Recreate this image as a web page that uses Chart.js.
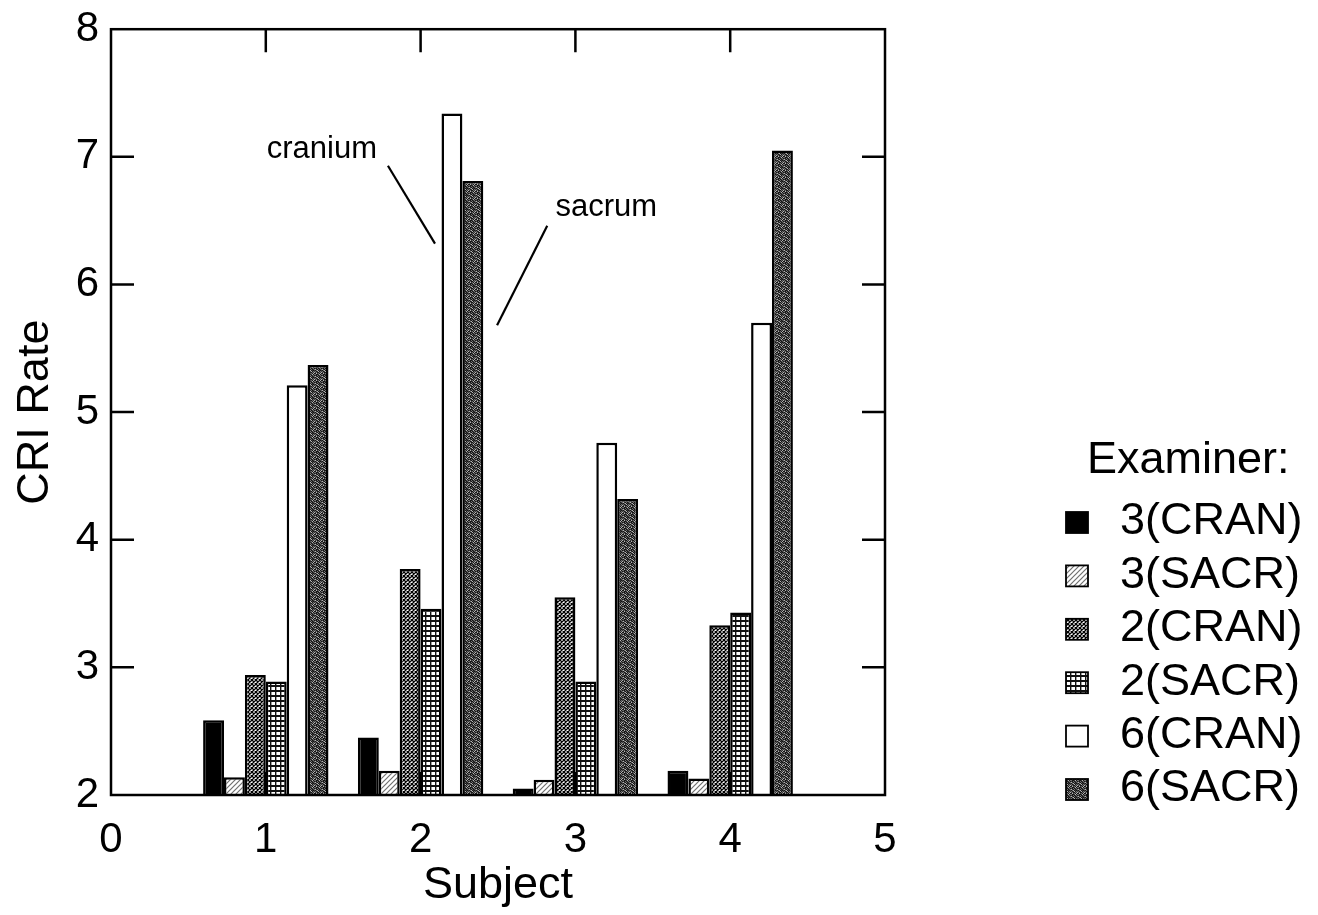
<!DOCTYPE html>
<html>
<head>
<meta charset="utf-8">
<script src="https://cdn.jsdelivr.net/npm/chart.js@4.4.1/dist/chart.umd.min.js"></script>
<style>
  html, body { margin: 0; padding: 0; background: #fff; }
  #wrap { width: 1318px; height: 915px; }
</style>
</head>
<body>
<div id="wrap"><canvas id="c" width="1318" height="915"></canvas></div>
<script>
// ---- data ----
const subjects = ['0', '1', '2', '3', '4', '5'];
const seriesNames = ['3(CRAN)', '3(SACR)', '2(CRAN)', '2(SACR)', '6(CRAN)', '6(SACR)'];
const ex3Cran = [null, 2.585, 2.45, 2.05, 2.19, null];
const ex3Sacr = [null, 2.14, 2.19, 2.12, 2.13, null];
const ex2Cran = [null, 2.94, 3.77, 3.55, 3.33, null];
const ex2Sacr = [null, 2.89, 3.46, 2.89, 3.43, null];
const ex6Cran = [null, 5.21, 7.34, 4.76, 5.70, null];
const ex6Sacr = [null, 5.37, 6.81, 4.32, 7.05, null];
const yTickValues = [3, 4, 5, 6, 7];
const xTickValues = [1, 2, 3, 4];
const legendTitle = 'Examiner:';
const yTitle = 'CRI Rate';
const xTitle = 'Subject';
// annotations in data coordinates
const notes = [
  { text: 'cranium', x: 1.362, y: 6.99, line: [1.789, 6.93, 2.093, 6.32] },
  { text: 'sacrum', x: 3.199, y: 6.54, line: [2.818, 6.46, 2.494, 5.68] }
];

// ---- patterns ----
function tile(w, h, draw) {
  const c = document.createElement('canvas');
  c.width = w; c.height = h;
  const g = c.getContext('2d');
  draw(g, w, h);
  return document.createElement('canvas').getContext('2d').createPattern(c, 'repeat');
}
const patSolid = '#000000';
const patSlash = tile(5, 5, (g, w, h) => {
  g.fillStyle = '#ffffff'; g.fillRect(0, 0, w, h);
  g.strokeStyle = '#707070'; g.lineWidth = 1.2;
  g.beginPath();
  g.moveTo(-1, h + 1); g.lineTo(w + 1, -1);
  g.moveTo(-1, 1); g.lineTo(1, -1);
  g.moveTo(w - 1, h + 1); g.lineTo(w + 1, h - 1);
  g.stroke();
});
const patCross = tile(4, 4, (g, w, h) => {
  g.fillStyle = '#ffffff'; g.fillRect(0, 0, w, h);
  g.strokeStyle = '#000'; g.lineWidth = 1.25;
  g.beginPath();
  g.moveTo(0, 0); g.lineTo(w, h);
  g.moveTo(w, 0); g.lineTo(0, h);
  g.stroke();
});
const patGrid = tile(5, 5, (g, w, h) => {
  g.fillStyle = '#ffffff'; g.fillRect(0, 0, w, h);
  g.fillStyle = '#111';
  g.fillRect(0, 0, w, 2);
  g.fillRect(0, 0, 1.4, h);
});
const patWhite = '#ffffff';
const stipple = [
  '2013021',
  '1200213',
  '0312030',
  '2001302',
  '1020120',
  '3102012',
  '0230101'
];
const shades = ['#141414', '#383838', '#6e6e6e', '#b4b4b4'];
const patDark = tile(7, 7, (g) => {
  for (let r = 0; r < 7; r++) for (let c = 0; c < 7; c++) {
    g.fillStyle = shades[+stipple[r][c]];
    g.fillRect(c, r, 1, 1);
  }
});
const fills = [patSolid, patSlash, patCross, patGrid, patWhite, patDark];
const seriesData = [ex3Cran, ex3Sacr, ex2Cran, ex2Sacr, ex6Cran, ex6Sacr];

const FONT = "'Liberation Sans', Arial, Helvetica, sans-serif";

const decor = {
  id: 'decor',
  beforeDatasetsDraw(chart) {
    const { ctx, chartArea: a, scales: { x, y } } = chart;
    ctx.save();
    ctx.strokeStyle = '#000'; ctx.lineWidth = 2.5;
    ctx.beginPath();
    yTickValues.forEach(v => {
      const py = y.getPixelForValue(v);
      ctx.moveTo(a.left, py); ctx.lineTo(a.left + 23, py);
      ctx.moveTo(a.right, py); ctx.lineTo(a.right - 23, py);
    });
    xTickValues.forEach(v => {
      const px = x.getPixelForValue(v);
      ctx.moveTo(px, a.top); ctx.lineTo(px, a.top + 23);
      ctx.moveTo(px, a.bottom); ctx.lineTo(px, a.bottom - 23);
    });
    ctx.stroke();
    ctx.restore();
  },
  afterDatasetsDraw(chart) {
    const { ctx, chartArea: a } = chart;
    ctx.save();
    ctx.strokeStyle = '#000'; ctx.lineWidth = 2.5;
    ctx.strokeRect(a.left, a.top, a.right - a.left, a.bottom - a.top);
    ctx.restore();
  },
  afterDraw(chart) {
    const { ctx, scales: { x, y } } = chart;
    ctx.save();
    // annotations
    ctx.fillStyle = '#000'; ctx.strokeStyle = '#000'; ctx.lineWidth = 2.2;
    ctx.font = '31px ' + FONT;
    ctx.textAlign = 'center'; ctx.textBaseline = 'alphabetic';
    notes.forEach(n => {
      ctx.fillText(n.text, x.getPixelForValue(n.x), y.getPixelForValue(n.y));
      ctx.beginPath();
      ctx.moveTo(x.getPixelForValue(n.line[0]), y.getPixelForValue(n.line[1]));
      ctx.lineTo(x.getPixelForValue(n.line[2]), y.getPixelForValue(n.line[3]));
      ctx.stroke();
    });
    // legend
    ctx.font = '45px ' + FONT;
    ctx.textAlign = 'left'; ctx.textBaseline = 'middle';
    ctx.fillText(legendTitle, 1087, 461);
    chart.data.datasets.forEach((ds, i) => {
      const cy = 522 + i * 53.4;
      ctx.fillStyle = ds.backgroundColor;
      ctx.fillRect(1066, cy - 10, 22, 21);
      ctx.lineWidth = 1.8; ctx.strokeStyle = '#000';
      ctx.strokeRect(1066, cy - 10, 22, 21);
      ctx.fillStyle = '#000';
      ctx.fillText(ds.label, 1120, cy);
    });
    ctx.restore();
  }
};

new Chart(document.getElementById('c'), {
  type: 'bar',
  data: {
    labels: subjects,
    datasets: seriesNames.map((name, i) => ({
      label: name,
      data: seriesData[i],
      backgroundColor: fills[i],
      borderColor: '#000',
      borderWidth: 2.5,
      categoryPercentage: 0.81,
      barPercentage: 1.0
    }))
  },
  options: {
    responsive: false,
    animation: false,
    devicePixelRatio: 1,
    layout: { padding: { top: 26, right: 433, left: 0, bottom: 0 } },
    plugins: { legend: { display: false }, tooltip: { enabled: false } },
    scales: {
      x: {
        type: 'category',
        offset: false,
        grid: { display: false, offset: false },
        border: { display: false },
        ticks: { color: '#000', font: { family: FONT, size: 42 }, padding: 12, maxRotation: 0, autoSkip: false },
        title: { display: true, text: xTitle, color: '#000', font: { family: FONT, size: 45 }, padding: { top: 0, bottom: 2 } },
        afterFit(s) { s.height = 120; }
      },
      y: {
        min: 2, max: 8,
        grid: { display: false },
        border: { display: false },
        ticks: { stepSize: 1, color: '#000', font: { family: FONT, size: 42 }, padding: 4 },
        title: { display: true, text: yTitle, color: '#000', font: { family: FONT, size: 45 }, padding: { top: 9, bottom: 0 } },
        afterFit(s) { s.width = 111; }
      }
    }
  },
  plugins: [decor]
});
</script>
</body>
</html>
